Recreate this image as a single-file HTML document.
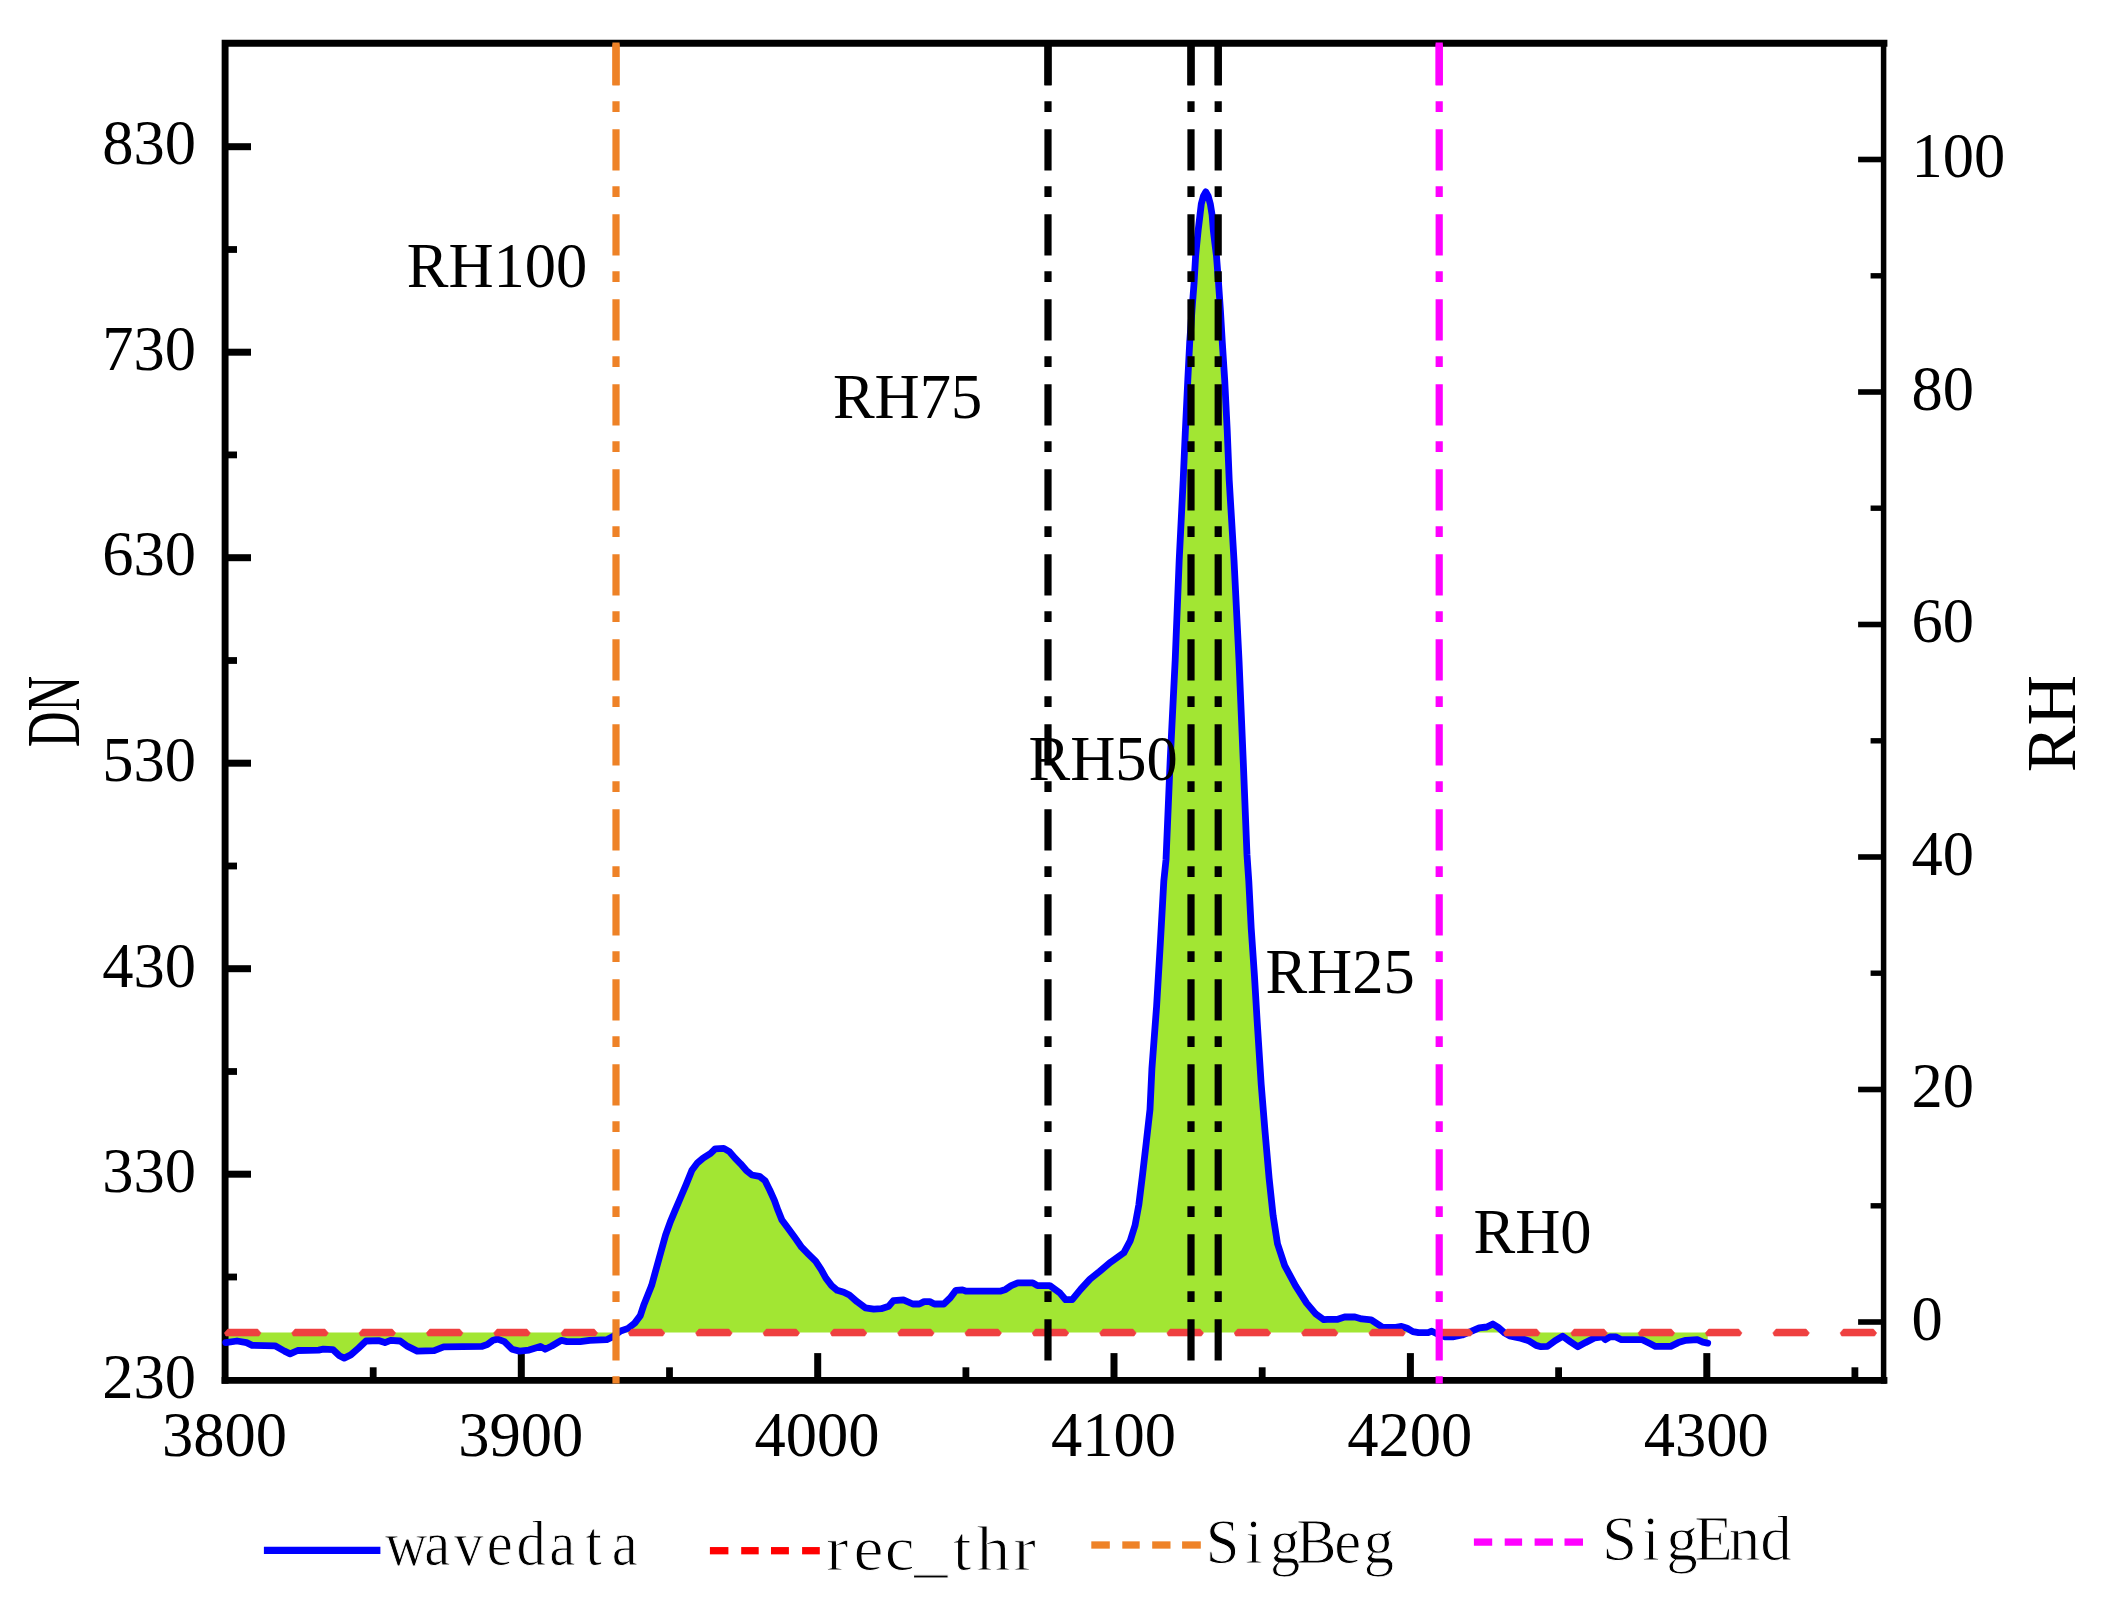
<!DOCTYPE html>
<html lang="en"><head><meta charset="utf-8"><title>Waveform RH chart</title>
<style>html,body{margin:0;padding:0;background:#fff}body{width:2110px;height:1600px;overflow:hidden}svg{display:block}text{font-family:"Liberation Serif",serif;fill:#000}.t{font-size:62.5px}.lg{font-size:63px;stroke:#fff}</style></head><body>
<svg width="2110" height="1600" viewBox="0 0 2110 1600">
<rect width="2110" height="1600" fill="#fff"/>
<polygon points="225.7,1342.6 237.0,1341.0 246.5,1342.6 252.2,1345.4 275.0,1345.8 284.5,1351.1 290.1,1353.9 297.7,1350.5 318.6,1350.1 323.3,1349.2 332.8,1349.6 339.4,1355.8 344.2,1358.1 350.8,1354.9 358.4,1348.2 366.0,1341.0 379.2,1340.7 384.9,1342.6 390.6,1340.3 400.1,1341.0 407.7,1346.4 417.2,1351.1 434.2,1350.7 443.7,1346.9 481.6,1346.4 487.3,1344.5 493.0,1340.3 497.7,1339.1 504.4,1341.6 512.0,1349.2 519.5,1351.1 529.0,1350.1 540.4,1346.4 545.1,1349.2 551.8,1346.0 561.2,1340.3 566.9,1341.6 580.2,1341.6 589.7,1340.3 606.7,1339.7 612.4,1336.9 620.6,1331.0 628.1,1328.4 634.7,1323.1 640.3,1315.6 644.0,1304.4 651.6,1285.6 656.2,1268.8 660.9,1251.9 665.6,1235.0 670.3,1221.9 675.0,1210.6 680.6,1197.5 686.2,1184.4 691.9,1170.3 697.5,1162.8 703.1,1158.1 710.6,1153.4 715.3,1148.8 723.8,1148.4 729.4,1151.6 735.0,1158.1 740.6,1163.8 746.2,1170.3 751.9,1175.0 759.4,1176.3 765.0,1180.6 769.7,1190.0 774.4,1200.3 778.1,1210.6 781.9,1220.0 787.5,1227.5 795.0,1237.8 801.6,1247.2 808.1,1253.8 815.6,1261.2 821.2,1269.7 825.9,1278.1 831.6,1285.6 837.2,1290.3 843.8,1292.2 849.4,1295.0 856.9,1301.6 865.3,1307.8 873.8,1309.1 881.2,1308.7 888.8,1306.2 893.4,1300.6 903.4,1299.9 912.8,1304.0 919.4,1304.0 924.1,1301.6 929.7,1301.6 934.4,1304.0 943.8,1304.0 950.3,1297.8 955.9,1290.3 962.5,1289.9 966.2,1291.2 1000.0,1291.2 1005.6,1289.4 1011.2,1285.6 1017.8,1282.8 1032.8,1282.8 1037.5,1285.6 1049.7,1285.6 1060.0,1293.1 1065.6,1299.7 1072.2,1299.7 1080.6,1289.4 1090.0,1279.1 1099.4,1271.6 1110.6,1262.2 1123.8,1252.8 1130.3,1240.6 1135.0,1225.6 1138.8,1205.0 1142.5,1175.0 1146.2,1143.1 1150.0,1109.4 1151.9,1068.8 1156.6,1006.2 1160.3,943.8 1163.8,881.2 1166.0,860.0 1170.2,760.0 1175.2,660.0 1179.2,560.0 1183.2,480.0 1185.4,430.0 1187.8,380.0 1189.7,342.5 1192.0,310.0 1194.1,282.5 1195.6,256.2 1196.7,245.0 1198.2,230.0 1200.0,215.0 1201.3,203.8 1203.4,196.2 1205.8,191.9 1208.2,196.2 1210.3,203.8 1212.1,215.0 1213.3,230.0 1215.1,245.0 1216.5,256.2 1218.5,282.5 1220.4,310.0 1222.3,342.5 1224.7,380.0 1227.2,430.0 1229.2,480.0 1234.0,560.0 1239.0,660.0 1243.2,760.0 1247.0,855.0 1248.8,881.2 1251.2,928.1 1254.4,975.0 1257.2,1021.9 1261.2,1084.4 1265.0,1131.2 1269.1,1178.1 1273.1,1215.6 1277.5,1243.8 1284.7,1265.6 1295.6,1285.9 1306.6,1303.1 1315.9,1314.1 1323.8,1319.7 1327.6,1319.4 1337.0,1319.4 1344.6,1317.0 1355.0,1317.0 1361.7,1318.9 1371.2,1319.8 1376.9,1323.6 1382.6,1327.4 1395.8,1327.4 1401.5,1326.4 1407.2,1328.3 1412.9,1331.6 1418.6,1332.7 1428.1,1332.7 1431.8,1331.2 1437.5,1334.0 1445.1,1336.9 1452.7,1336.9 1462.2,1335.0 1471.7,1331.2 1479.2,1327.8 1486.8,1327.0 1492.9,1324.0 1498.2,1327.4 1504.8,1333.1 1509.6,1335.9 1519.1,1337.8 1528.5,1340.7 1536.1,1345.4 1540.9,1346.7 1547.5,1346.4 1555.1,1340.7 1562.7,1336.3 1570.2,1341.6 1577.8,1346.7 1585.4,1342.6 1594.9,1337.8 1602.5,1336.9 1605.3,1339.7 1610.0,1336.9 1615.7,1336.9 1621.4,1339.7 1642.3,1339.7 1649.9,1343.5 1655.5,1346.4 1670.7,1346.4 1678.3,1342.6 1685.9,1340.3 1697.3,1339.7 1702.9,1342.2 1707.7,1343.1 1707.7,1332.6 225.7,1332.6" fill="#a2e633" fill-rule="evenodd"/>
<g stroke="#000" fill="none" stroke-linecap="butt">
<path d="M225.1 1383.7 V43.3 H1887.3999999999999" stroke-width="6.9"/>
<path d="M221.6 1380.4 H1887.3999999999999" stroke-width="6.6"/>
<path d="M1883.6 39.9 V1383.7" stroke-width="5.5"/>
<path d="M225.1 1174.2 H251" stroke-width="7"/>
<path d="M225.1 968.7 H251" stroke-width="7"/>
<path d="M225.1 763.2 H251" stroke-width="7"/>
<path d="M225.1 557.7 H251" stroke-width="7"/>
<path d="M225.1 352.2 H251" stroke-width="7"/>
<path d="M225.1 146.7 H251" stroke-width="7"/>
<path d="M225.1 1277.0 H237" stroke-width="6.8"/>
<path d="M225.1 1071.5 H237" stroke-width="6.8"/>
<path d="M225.1 866.0 H237" stroke-width="6.8"/>
<path d="M225.1 660.5 H237" stroke-width="6.8"/>
<path d="M225.1 454.9 H237" stroke-width="6.8"/>
<path d="M225.1 249.5 H237" stroke-width="6.8"/>
<path d="M521.3 1380.4 V1353.1" stroke-width="7"/>
<path d="M817.7 1380.4 V1353.1" stroke-width="7"/>
<path d="M1114.0 1380.4 V1353.1" stroke-width="7"/>
<path d="M1410.4 1380.4 V1353.1" stroke-width="7"/>
<path d="M1706.8 1380.4 V1353.1" stroke-width="7"/>
<path d="M373.2 1380.4 V1367.3" stroke-width="6.8"/>
<path d="M669.5 1380.4 V1367.3" stroke-width="6.8"/>
<path d="M965.9 1380.4 V1367.3" stroke-width="6.8"/>
<path d="M1262.2 1380.4 V1367.3" stroke-width="6.8"/>
<path d="M1558.6 1380.4 V1367.3" stroke-width="6.8"/>
<path d="M1854.9 1380.4 V1367.3" stroke-width="6.8"/>
<path d="M1883.6 1322.0 H1858.1" stroke-width="5.6"/>
<path d="M1883.6 1089.5 H1858.1" stroke-width="5.6"/>
<path d="M1883.6 857.0 H1858.1" stroke-width="5.6"/>
<path d="M1883.6 624.5 H1858.1" stroke-width="5.6"/>
<path d="M1883.6 392.0 H1858.1" stroke-width="5.6"/>
<path d="M1883.6 159.5 H1858.1" stroke-width="5.6"/>
<path d="M1883.6 1205.8 H1870.6" stroke-width="5.4"/>
<path d="M1883.6 973.2 H1870.6" stroke-width="5.4"/>
<path d="M1883.6 740.8 H1870.6" stroke-width="5.4"/>
<path d="M1883.6 508.2 H1870.6" stroke-width="5.4"/>
<path d="M1883.6 275.8 H1870.6" stroke-width="5.4"/>
</g>
<polyline points="225.7,1342.6 237.0,1341.0 246.5,1342.6 252.2,1345.4 275.0,1345.8 284.5,1351.1 290.1,1353.9 297.7,1350.5 318.6,1350.1 323.3,1349.2 332.8,1349.6 339.4,1355.8 344.2,1358.1 350.8,1354.9 358.4,1348.2 366.0,1341.0 379.2,1340.7 384.9,1342.6 390.6,1340.3 400.1,1341.0 407.7,1346.4 417.2,1351.1 434.2,1350.7 443.7,1346.9 481.6,1346.4 487.3,1344.5 493.0,1340.3 497.7,1339.1 504.4,1341.6 512.0,1349.2 519.5,1351.1 529.0,1350.1 540.4,1346.4 545.1,1349.2 551.8,1346.0 561.2,1340.3 566.9,1341.6 580.2,1341.6 589.7,1340.3 606.7,1339.7 612.4,1336.9 620.6,1331.0 628.1,1328.4 634.7,1323.1 640.3,1315.6 644.0,1304.4 651.6,1285.6 656.2,1268.8 660.9,1251.9 665.6,1235.0 670.3,1221.9 675.0,1210.6 680.6,1197.5 686.2,1184.4 691.9,1170.3 697.5,1162.8 703.1,1158.1 710.6,1153.4 715.3,1148.8 723.8,1148.4 729.4,1151.6 735.0,1158.1 740.6,1163.8 746.2,1170.3 751.9,1175.0 759.4,1176.3 765.0,1180.6 769.7,1190.0 774.4,1200.3 778.1,1210.6 781.9,1220.0 787.5,1227.5 795.0,1237.8 801.6,1247.2 808.1,1253.8 815.6,1261.2 821.2,1269.7 825.9,1278.1 831.6,1285.6 837.2,1290.3 843.8,1292.2 849.4,1295.0 856.9,1301.6 865.3,1307.8 873.8,1309.1 881.2,1308.7 888.8,1306.2 893.4,1300.6 903.4,1299.9 912.8,1304.0 919.4,1304.0 924.1,1301.6 929.7,1301.6 934.4,1304.0 943.8,1304.0 950.3,1297.8 955.9,1290.3 962.5,1289.9 966.2,1291.2 1000.0,1291.2 1005.6,1289.4 1011.2,1285.6 1017.8,1282.8 1032.8,1282.8 1037.5,1285.6 1049.7,1285.6 1060.0,1293.1 1065.6,1299.7 1072.2,1299.7 1080.6,1289.4 1090.0,1279.1 1099.4,1271.6 1110.6,1262.2 1123.8,1252.8 1130.3,1240.6 1135.0,1225.6 1138.8,1205.0 1142.5,1175.0 1146.2,1143.1 1150.0,1109.4 1151.9,1068.8 1156.6,1006.2 1160.3,943.8 1163.8,881.2 1166.0,860.0 1170.2,760.0 1175.2,660.0 1179.2,560.0 1183.2,480.0 1185.4,430.0 1187.8,380.0 1189.7,342.5 1192.0,310.0 1194.1,282.5 1195.6,256.2 1196.7,245.0 1198.2,230.0 1200.0,215.0 1201.3,203.8 1203.4,196.2 1205.8,191.9 1208.2,196.2 1210.3,203.8 1212.1,215.0 1213.3,230.0 1215.1,245.0 1216.5,256.2 1218.5,282.5 1220.4,310.0 1222.3,342.5 1224.7,380.0 1227.2,430.0 1229.2,480.0 1234.0,560.0 1239.0,660.0 1243.2,760.0 1247.0,855.0 1248.8,881.2 1251.2,928.1 1254.4,975.0 1257.2,1021.9 1261.2,1084.4 1265.0,1131.2 1269.1,1178.1 1273.1,1215.6 1277.5,1243.8 1284.7,1265.6 1295.6,1285.9 1306.6,1303.1 1315.9,1314.1 1323.8,1319.7 1327.6,1319.4 1337.0,1319.4 1344.6,1317.0 1355.0,1317.0 1361.7,1318.9 1371.2,1319.8 1376.9,1323.6 1382.6,1327.4 1395.8,1327.4 1401.5,1326.4 1407.2,1328.3 1412.9,1331.6 1418.6,1332.7 1428.1,1332.7 1431.8,1331.2 1437.5,1334.0 1445.1,1336.9 1452.7,1336.9 1462.2,1335.0 1471.7,1331.2 1479.2,1327.8 1486.8,1327.0 1492.9,1324.0 1498.2,1327.4 1504.8,1333.1 1509.6,1335.9 1519.1,1337.8 1528.5,1340.7 1536.1,1345.4 1540.9,1346.7 1547.5,1346.4 1555.1,1340.7 1562.7,1336.3 1570.2,1341.6 1577.8,1346.7 1585.4,1342.6 1594.9,1337.8 1602.5,1336.9 1605.3,1339.7 1610.0,1336.9 1615.7,1336.9 1621.4,1339.7 1642.3,1339.7 1649.9,1343.5 1655.5,1346.4 1670.7,1346.4 1678.3,1342.6 1685.9,1340.3 1697.3,1339.7 1702.9,1342.2 1707.7,1343.1" fill="none" stroke="#0000ff" stroke-width="6.8" stroke-linejoin="round" stroke-linecap="round"/>
<g fill="#ef4040">
<polygon points="224.4,1332.9 227.7,1329.1 257.7,1329.1 261.0,1332.9 258.9,1336.0 225.9,1336.0" stroke="#ef4040" stroke-width="0.6" stroke-linejoin="round"/>
<polygon points="291.7,1332.9 295.0,1329.1 325.0,1329.1 328.3,1332.9 326.2,1336.0 293.2,1336.0" stroke="#ef4040" stroke-width="0.6" stroke-linejoin="round"/>
<polygon points="359.0,1332.9 362.3,1329.1 392.3,1329.1 395.6,1332.9 393.5,1336.0 360.5,1336.0" stroke="#ef4040" stroke-width="0.6" stroke-linejoin="round"/>
<polygon points="426.4,1332.9 429.7,1329.1 459.7,1329.1 463.0,1332.9 460.9,1336.0 427.9,1336.0" stroke="#ef4040" stroke-width="0.6" stroke-linejoin="round"/>
<polygon points="493.7,1332.9 497.0,1329.1 527.0,1329.1 530.3,1332.9 528.2,1336.0 495.2,1336.0" stroke="#ef4040" stroke-width="0.6" stroke-linejoin="round"/>
<polygon points="561.0,1332.9 564.3,1329.1 594.3,1329.1 597.6,1332.9 595.5,1336.0 562.5,1336.0" stroke="#ef4040" stroke-width="0.6" stroke-linejoin="round"/>
<polygon points="628.3,1332.9 631.6,1329.1 661.6,1329.1 664.9,1332.9 662.8,1336.0 629.8,1336.0" stroke="#ef4040" stroke-width="0.6" stroke-linejoin="round"/>
<polygon points="695.6,1332.9 698.9,1329.1 728.9,1329.1 732.2,1332.9 730.1,1336.0 697.1,1336.0" stroke="#ef4040" stroke-width="0.6" stroke-linejoin="round"/>
<polygon points="763.0,1332.9 766.3,1329.1 796.3,1329.1 799.6,1332.9 797.5,1336.0 764.5,1336.0" stroke="#ef4040" stroke-width="0.6" stroke-linejoin="round"/>
<polygon points="830.3,1332.9 833.6,1329.1 863.6,1329.1 866.9,1332.9 864.8,1336.0 831.8,1336.0" stroke="#ef4040" stroke-width="0.6" stroke-linejoin="round"/>
<polygon points="897.6,1332.9 900.9,1329.1 930.9,1329.1 934.2,1332.9 932.1,1336.0 899.1,1336.0" stroke="#ef4040" stroke-width="0.6" stroke-linejoin="round"/>
<polygon points="964.9,1332.9 968.2,1329.1 998.2,1329.1 1001.5,1332.9 999.4,1336.0 966.4,1336.0" stroke="#ef4040" stroke-width="0.6" stroke-linejoin="round"/>
<polygon points="1032.2,1332.9 1035.5,1329.1 1065.5,1329.1 1068.8,1332.9 1066.7,1336.0 1033.7,1336.0" stroke="#ef4040" stroke-width="0.6" stroke-linejoin="round"/>
<polygon points="1099.6,1332.9 1102.9,1329.1 1132.9,1329.1 1136.2,1332.9 1134.1,1336.0 1101.1,1336.0" stroke="#ef4040" stroke-width="0.6" stroke-linejoin="round"/>
<polygon points="1166.9,1332.9 1170.2,1329.1 1200.2,1329.1 1203.5,1332.9 1201.4,1336.0 1168.4,1336.0" stroke="#ef4040" stroke-width="0.6" stroke-linejoin="round"/>
<polygon points="1234.2,1332.9 1237.5,1329.1 1267.5,1329.1 1270.8,1332.9 1268.7,1336.0 1235.7,1336.0" stroke="#ef4040" stroke-width="0.6" stroke-linejoin="round"/>
<polygon points="1301.5,1332.9 1304.8,1329.1 1334.8,1329.1 1338.1,1332.9 1336.0,1336.0 1303.0,1336.0" stroke="#ef4040" stroke-width="0.6" stroke-linejoin="round"/>
<polygon points="1368.8,1332.9 1372.1,1329.1 1402.1,1329.1 1405.4,1332.9 1403.3,1336.0 1370.3,1336.0" stroke="#ef4040" stroke-width="0.6" stroke-linejoin="round"/>
<polygon points="1436.2,1332.9 1439.5,1329.1 1469.5,1329.1 1472.8,1332.9 1470.7,1336.0 1437.7,1336.0" stroke="#ef4040" stroke-width="0.6" stroke-linejoin="round"/>
<polygon points="1503.5,1332.9 1506.8,1329.1 1536.8,1329.1 1540.1,1332.9 1538.0,1336.0 1505.0,1336.0" stroke="#ef4040" stroke-width="0.6" stroke-linejoin="round"/>
<polygon points="1570.8,1332.9 1574.1,1329.1 1604.1,1329.1 1607.4,1332.9 1605.3,1336.0 1572.3,1336.0" stroke="#ef4040" stroke-width="0.6" stroke-linejoin="round"/>
<polygon points="1638.1,1332.9 1641.4,1329.1 1671.4,1329.1 1674.7,1332.9 1672.6,1336.0 1639.6,1336.0" stroke="#ef4040" stroke-width="0.6" stroke-linejoin="round"/>
<polygon points="1705.4,1332.9 1708.7,1329.1 1738.7,1329.1 1742.0,1332.9 1739.9,1336.0 1706.9,1336.0" stroke="#ef4040" stroke-width="0.6" stroke-linejoin="round"/>
<polygon points="1772.8,1332.9 1776.1,1329.1 1806.1,1329.1 1809.4,1332.9 1807.3,1336.0 1774.3,1336.0" stroke="#ef4040" stroke-width="0.6" stroke-linejoin="round"/>
<polygon points="1840.1,1332.9 1843.4,1329.1 1873.4,1329.1 1876.7,1332.9 1874.6,1336.0 1841.6,1336.0" stroke="#ef4040" stroke-width="0.6" stroke-linejoin="round"/>
</g>
<path d="M616 42.5 V85" stroke="#ee8227" stroke-width="7.2" fill="none"/>
<path d="M616 44.25 V1383.6" stroke="#ee8227" stroke-width="7.2" fill="none" stroke-dasharray="41.2 15.8 10.8 17.2"/>
<path d="M1048 42.5 V85" stroke="#000" stroke-width="7.2" fill="none"/>
<path d="M1048 44.25 V1362" stroke="#000" stroke-width="7.2" fill="none" stroke-dasharray="41.2 15.8 10.8 17.2"/>
<path d="M1191 42.5 V85" stroke="#000" stroke-width="7.2" fill="none"/>
<path d="M1191 44.25 V1362" stroke="#000" stroke-width="7.2" fill="none" stroke-dasharray="41.2 15.8 10.8 17.2"/>
<path d="M1218.2 42.5 V85" stroke="#000" stroke-width="7.2" fill="none"/>
<path d="M1218.2 44.25 V1362" stroke="#000" stroke-width="7.2" fill="none" stroke-dasharray="41.2 15.8 10.8 17.2"/>
<path d="M1439.2 42.5 V85" stroke="#ff00ff" stroke-width="7.2" fill="none"/>
<path d="M1439.2 44.25 V1383.6" stroke="#ff00ff" stroke-width="7.2" fill="none" stroke-dasharray="41.2 15.8 10.8 17.2"/>
<g class="t">
<text x="196" y="1397.7" text-anchor="end">230</text>
<text x="196" y="1192.1" text-anchor="end">330</text>
<text x="196" y="986.5" text-anchor="end">430</text>
<text x="196" y="780.9" text-anchor="end">530</text>
<text x="196" y="575.3" text-anchor="end">630</text>
<text x="196" y="369.7" text-anchor="end">730</text>
<text x="196" y="164.1" text-anchor="end">830</text>
<text x="224.4" y="1455.6" text-anchor="middle">3800</text>
<text x="520.7" y="1455.6" text-anchor="middle">3900</text>
<text x="817.1" y="1455.6" text-anchor="middle">4000</text>
<text x="1113.5" y="1455.6" text-anchor="middle">4100</text>
<text x="1409.8" y="1455.6" text-anchor="middle">4200</text>
<text x="1706.2" y="1455.6" text-anchor="middle">4300</text>
<text x="1911.5" y="1339.8">0</text>
<text x="1911.5" y="1107.3">20</text>
<text x="1911.5" y="874.8">40</text>
<text x="1911.5" y="642.3">60</text>
<text x="1911.5" y="409.8">80</text>
<text x="1911.5" y="177.3">100</text>
<text x="406.8" y="287.4">RH100</text>
<text x="832.9" y="417.8">RH75</text>
<text x="1028.5" y="779.6">RH50</text>
<text x="1265.4" y="993.1">RH25</text>
<text x="1473.5" y="1253.0">RH0</text>
</g>
<text transform="translate(2074.9 723.5) rotate(-90)" text-anchor="middle" font-size="70">RH</text>
<text transform="translate(79.1 745.7) rotate(-90) scale(0.655 1)" x="-2.2" y="0" font-size="75.5">DN</text>
<path d="M263.9 1550.4 H380.4" stroke="#0000ff" stroke-width="7.3" fill="none"/>
<rect x="709.9" y="1547.05" width="18.5" height="7.3" fill="#ff0000"/>
<rect x="741.2" y="1547.05" width="17.5" height="7.3" fill="#ff0000"/>
<rect x="771" y="1547.05" width="17.9" height="7.3" fill="#ff0000"/>
<rect x="802.1" y="1547.05" width="17.7" height="7.3" fill="#ff0000"/>
<rect x="1091.3" y="1541.35" width="18.5" height="7.3" fill="#ee8227"/>
<rect x="1122.3" y="1541.35" width="17.4" height="7.3" fill="#ee8227"/>
<rect x="1152.2" y="1541.35" width="18.3" height="7.3" fill="#ee8227"/>
<rect x="1182.1" y="1541.35" width="18.7" height="7.3" fill="#ee8227"/>
<rect x="1473.9" y="1538.45" width="18.3" height="7.3" fill="#ff00ff"/>
<rect x="1504.7" y="1538.45" width="17.4" height="7.3" fill="#ff00ff"/>
<rect x="1534.6" y="1538.45" width="18.3" height="7.3" fill="#ff00ff"/>
<rect x="1564.5" y="1538.45" width="18.5" height="7.3" fill="#ff00ff"/>
<text class="lg" transform="scale(0.93 1)" x="436.7 470.3 503.9 537.5 571.1 604.7 638.3 671.9" y="1565.2" text-anchor="middle" font-size="61" stroke-width="0.9">wavedata</text>
<text class="lg" transform="scale(1.07 1)" x="782.4 811.6 840.8 870.0 899.2 928.4 957.6" y="1569.6" text-anchor="middle" font-size="61" stroke-width="1.1">rec_thr</text>
<text class="lg" transform="scale(0.96 1)" x="1273.6 1306.1 1338.7 1371.2 1403.8 1436.3" y="1562.65" text-anchor="middle" font-size="63" stroke-width="1.0">SigBeg</text>
<text class="lg" transform="scale(1.0 1)" x="1619.6 1650.9 1682.1 1713.4 1744.6 1775.9" y="1560.1" text-anchor="middle" font-size="63" stroke-width="1.0">SigEnd</text>
</svg></body></html>
